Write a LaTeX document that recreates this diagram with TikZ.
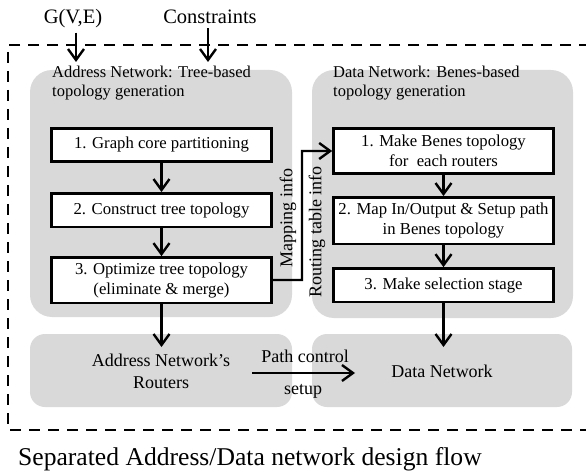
\documentclass[tikz,border=0pt]{standalone}
\usepackage{fontspec}
\setmainfont{Liberation Serif}
\usetikzlibrary{arrows.meta}
\usetikzlibrary{positioning}
\definecolor{regiongray}{HTML}{D9D9D9}
\tikzset{
  % gray background of a network
  region/.style = {
    fill = regiongray,
    draw = none,
    rounded corners = 22pt
  },
  % white design step
  stepbox/.style = {
    draw = black,
    fill = white,
    line width = 2.6pt,
    minimum width = 220pt,
    inner sep = 0pt,
    align = center,
    font = \fontsize{16.7}{20}\selectfont
  },
  % heading of a network region
  title/.style = {
    anchor = base west,
    align = left,
    inner sep = 0pt,
    font = \fontsize{16.5}{19}\selectfont
  },
  lbl/.style = {
    inner sep = 0pt,
    font = \fontsize{18}{22}\selectfont
  },
  arr/.style = {
    draw = black,
    line width = 2.4pt,
    -{Straight Barb[length=11pt,width=16pt]}
  },
  frame/.style = {
    draw = black,
    line width = 2.5pt,
    dash pattern = on 11pt off 8pt
  },
  node distance = 28pt
}

\begin{document}
\begin{tikzpicture}[x=1pt,y=-1pt]
  \useasboundingbox (0,0) rectangle (586,473);

  % inputs
  \node[lbl, anchor=base, font=\fontsize{20.5}{24}\selectfont] (graph) at (73,24) {G(V,E)};
  \node[lbl, anchor=base, font=\fontsize{20.5}{24}\selectfont] (constr) at (210,24) {Constraints};
  \coordinate (g-in) at (76,62);
  \coordinate (c-in) at (208,62);

  % dashed frame
  \draw[frame] (590,45) -- (8,45) -- (8,430) -- (590,430);

  % network regions
  \node[region, minimum width=262pt, minimum height=247pt] (addrnet) at (161,193.5) {};
  \node[region, minimum width=261pt, minimum height=248pt] (datanet) at (442.5,194) {};
  \node[region, rounded corners=15pt, minimum width=262pt, minimum height=73pt] (addrbase) at (161,370.5) {};
  \node[region, rounded corners=15pt, minimum width=260pt, minimum height=73pt] (database) at (442,370.5) {};

  \node[title] (addrtitle) at (52,97) {Address Network: Tree-based\\topology generation};
  \node[title] (datatitle) at (333,97) {Data Network: Benes-based\\topology generation};

  % address network steps
  \node[stepbox, minimum height=33.5pt] (partition) at (161.5,145) {1. Graph core partitioning};
  \node[stepbox, minimum height=33.5pt] (tree) [below=29pt of partition] {2. Construct tree topology};
  \node[stepbox, minimum height=45.5pt] (opt) [below=28pt of tree] {3. Optimize tree topology\\(eliminate \& merge)};

  % data network steps
  \node[stepbox, minimum height=45.5pt] (benes) at (443.5,151) {1. Make Benes topology\\for~ each routers};
  \node[stepbox, minimum height=46.5pt] (mappath) [below=21pt of benes] {2. Map In/Output \& Setup path\\in Benes topology};
  \node[stepbox, minimum height=33.5pt] (select) [below=22pt of mappath] {3. Make selection stage};

  % results
  \node[lbl, align=center] (routers) at (161,371.5) {Address Network's\\Routers};
  \node[lbl, anchor=base] (datanw) at (442,377) {Data Network};

  \coordinate (addr-in) at (161.5,347);
  \coordinate (data-in) at (443.5,347);
  \coordinate (turn) at (302,280);
  \coordinate (pc-from) at (252,373);
  \coordinate (pc-to) at (355,373);

  \draw[arr] ([yshift=-4pt]graph.south -| g-in) -- (g-in);
  \draw[arr] ([yshift=-4pt]constr.south -| c-in) -- (c-in);

  \draw[arr] (partition) -- (tree);
  \draw[arr] (tree) -- (opt);
  \draw[arr] (opt) -- (addr-in);

  \draw[arr] (benes) -- (mappath);
  \draw[arr] (mappath) -- (select);
  \draw[arr] (select) -- (data-in);

  \draw[arr] (opt) -- (turn) |- (benes);
  \node[lbl, rotate=90] (mapinfo) at (288,218) {Mapping info};
  \node[lbl, rotate=90] (routeinfo) at (317,232) {Routing table info};

  \draw[arr] (pc-from) -- (pc-to);
  \node[lbl, anchor=base] (pathctl) at (305,362) {Path control};
  \node[lbl, anchor=base] (setup) at (303,394) {setup};

  % caption
  \node[anchor=base west, inner sep=0pt, font=\fontsize{25.6}{30}\selectfont] (caption) at (18,465) {Separated Address/Data network design flow};
\end{tikzpicture}
\end{document}
